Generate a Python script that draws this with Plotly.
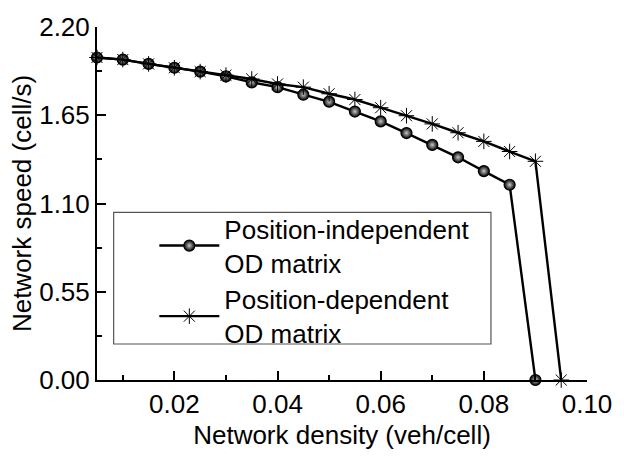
import plotly.graph_objects as go

density_indep = [0.005, 0.010, 0.015, 0.020, 0.025, 0.030, 0.035, 0.040, 0.045,
                 0.050, 0.055, 0.060, 0.065, 0.070, 0.075, 0.080, 0.085, 0.090]
speed_indep = [2.01, 1.997, 1.97, 1.946, 1.922, 1.892, 1.855, 1.825, 1.778,
               1.734, 1.673, 1.612, 1.539, 1.465, 1.388, 1.302, 1.217, 0.0]

density_dep = [0.005, 0.010, 0.015, 0.020, 0.025, 0.030, 0.035, 0.040, 0.045,
               0.050, 0.055, 0.060, 0.065, 0.070, 0.075, 0.080, 0.085, 0.090, 0.095]
speed_dep = [2.01, 1.997, 1.97, 1.946, 1.922, 1.90, 1.876, 1.845, 1.825,
             1.784, 1.748, 1.697, 1.647, 1.596, 1.541, 1.487, 1.424, 1.363, 0.0]

names = ["Position-independent<br>OD matrix", "Position-dependent<br>OD matrix"]
x_ticks = [0.02, 0.04, 0.06, 0.08, 0.10]
y_ticks = [0.00, 0.55, 1.10, 1.65, 2.20]

FONT = "Liberation Sans, Arial, sans-serif"

fig = go.Figure()
fig.add_trace(go.Scatter(
    x=density_indep, y=speed_indep, mode="lines+markers", name=names[0],
    line=dict(color="black", width=2.4),
    marker=dict(symbol="circle", size=11, color="black",
                gradient=dict(type="radial", color="#c8c8c8"),
                line=dict(width=1.2, color="black")),
    cliponaxis=False,
))
fig.add_trace(go.Scatter(
    x=density_dep, y=speed_dep, mode="lines+markers", name=names[1],
    line=dict(color="black", width=2.4),
    marker=dict(symbol="asterisk-open", size=13, color="black",
                line=dict(width=1, color="black")),
    cliponaxis=False,
))

fig.update_layout(
    width=624, height=457,
    margin=dict(l=97, r=28, t=20, b=75),
    paper_bgcolor="white", plot_bgcolor="white",
    font=dict(family=FONT, size=25, color="black"),
    showlegend=True,
    legend=dict(x=0.117, y=0.495, xanchor="left", yanchor="top",
                bgcolor="rgba(0,0,0,0)", borderwidth=0,
                font=dict(size=26), itemwidth=60, tracegroupgap=0),
    shapes=[dict(type="rect", xref="paper", yref="paper",
                 x0=0.034, x1=0.804, y0=0.102, y1=0.475,
                 line=dict(color="#555555", width=1.2), fillcolor="rgba(0,0,0,0)")],
)

fig.update_xaxes(
    range=[0.005, 0.1], tickvals=x_ticks, ticktext=[f"{v:.2f}" for v in x_ticks],
    ticks="inside", ticklen=9, tickwidth=1.5, tickcolor="black",
    minor=dict(tickvals=[0.01, 0.03, 0.05, 0.07, 0.09], ticks="inside", ticklen=5,
               tickwidth=1.5, tickcolor="black"),
    showline=True, linewidth=2, linecolor="black", mirror=False,
    showgrid=False, zeroline=False,
    tickfont=dict(size=26),
    title=dict(text="Network density (veh/cell)", font=dict(size=26), standoff=8),
)
fig.update_yaxes(
    range=[0, 2.2], tickvals=y_ticks, ticktext=[f"{v:.2f}" for v in y_ticks],
    ticks="inside", ticklen=9, tickwidth=1.5, tickcolor="black",
    minor=dict(tickvals=[0.275, 0.825, 1.375, 1.925], ticks="inside", ticklen=5,
               tickwidth=1.5, tickcolor="black"),
    showline=True, linewidth=2, linecolor="black", mirror=False,
    showgrid=False, zeroline=False,
    tickfont=dict(size=26),
    title=dict(text="Network speed (cell/s)", font=dict(size=26), standoff=0),
)

fig.write_html("out.html")
